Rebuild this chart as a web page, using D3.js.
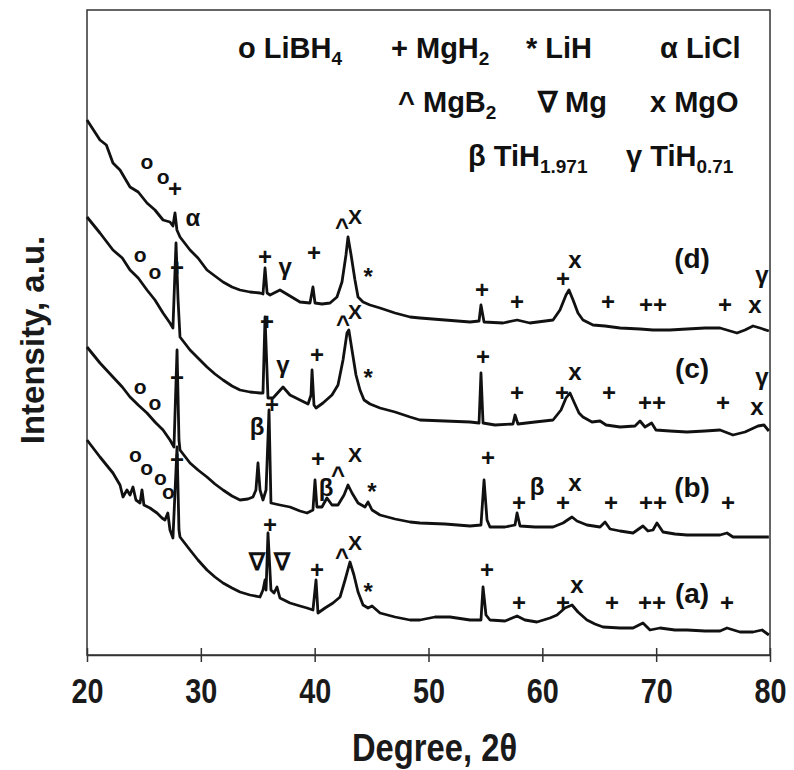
<!DOCTYPE html>
<html>
<head>
<meta charset="utf-8">
<script src="https://cdn.jsdelivr.net/npm/d3@7"></script>
<style>
  body { margin: 0; background: #fff; }
  svg { display: block; }
</style>
</head>
<body>
<div id="chart"></div>
<script>
// XRD patterns, 2theta in degrees vs intensity (a.u., stacked offsets included)
const seriesNames = ['(d)', '(c)', '(b)', '(a)']

const seriesD = [
  [20.0, 535], [21.14, 515], [21.7, 510], [22.28, 492], [22.9, 485], [23.78, 468], [24.5, 463],
  [25.27, 452], [25.97, 445], [26.68, 435], [27.29, 433], [27.55, 429], [27.73, 442], [27.9, 425],
  [28.17, 418], [29.05, 405], [29.75, 397], [30.54, 385], [31.24, 379], [31.95, 373], [32.74, 368],
  [33.44, 365], [34.32, 363], [35.2, 362], [35.46, 361], [35.64, 387], [35.82, 362], [36.08, 360],
  [36.95, 365], [37.83, 359], [38.71, 353], [39.59, 352], [39.85, 368], [40.03, 352], [40.64, 351],
  [41.35, 352], [41.96, 358], [42.4, 373], [42.75, 400], [42.93, 418], [43.2, 400], [43.54, 375],
  [43.81, 358], [44.25, 353], [44.86, 350], [45.74, 347], [47.06, 342], [48.38, 338], [49.25, 337],
  [51.45, 335], [53.65, 333], [54.44, 334], [54.61, 350], [54.88, 333], [56.55, 332], [57.78, 335],
  [58.9, 332], [60.94, 335], [61.55, 345], [62.08, 360], [62.34, 365], [62.7, 355], [63.13, 342],
  [63.57, 335], [64.45, 330], [65.5, 329], [66.83, 327], [68.58, 326], [69.72, 325], [71.2, 325],
  [72.71, 326], [74.29, 327], [75.61, 327], [77.1, 322], [77.8, 325], [78.51, 329], [79.12, 327],
  [79.9, 324]
]

const seriesC = [
  [20.0, 438], [21.14, 422], [22.28, 405], [23.1, 397], [23.78, 385], [24.5, 377], [25.27, 365],
  [25.97, 355], [26.68, 342], [27.29, 332], [27.55, 327], [27.82, 412], [28.0, 355], [28.17, 318],
  [29.05, 305], [29.75, 297], [30.54, 288], [31.24, 281], [31.95, 275], [32.74, 269], [33.44, 265],
  [34.32, 263], [35.2, 262], [35.46, 262], [35.64, 338], [35.9, 257], [36.34, 257], [37.22, 268],
  [37.83, 260], [38.71, 255], [39.42, 251], [39.68, 260], [39.77, 285], [39.94, 250], [40.12, 247],
  [40.73, 252], [41.52, 260], [42.05, 270], [42.49, 295], [42.84, 322], [43.0, 325], [43.28, 305],
  [43.63, 280], [43.98, 265], [44.34, 255], [44.86, 251], [45.74, 247], [47.06, 243], [48.38, 238],
  [49.25, 235], [51.45, 234], [53.65, 233], [54.44, 232], [54.61, 282], [54.79, 232], [55.84, 230],
  [57.42, 231], [57.6, 240], [57.86, 231], [59.36, 233], [60.94, 235], [61.64, 245], [62.08, 257],
  [62.43, 262], [62.78, 253], [63.22, 242], [63.57, 238], [64.36, 233], [65.07, 234], [65.6, 230],
  [66.83, 228], [68.14, 229], [68.58, 234], [69.02, 228], [69.6, 232], [69.98, 225], [71.2, 224],
  [72.71, 223], [74.29, 224], [75.61, 225], [76.75, 220], [77.8, 223], [78.95, 229], [79.47, 230],
  [79.9, 224]
]

const seriesB = [
  [20.0, 308], [21.14, 292], [22.28, 278], [23.1, 268], [23.78, 258], [24.5, 250], [25.27, 242],
  [25.97, 233], [26.68, 225], [27.29, 215], [27.64, 208], [27.91, 305], [28.08, 215], [28.17, 205],
  [29.05, 192], [29.75, 185], [30.54, 178], [31.24, 171], [31.95, 165], [32.74, 159], [33.44, 155],
  [34.14, 156], [34.58, 158], [34.84, 165], [35.02, 192], [35.2, 165], [35.46, 155], [35.73, 165],
  [35.99, 245], [36.16, 152], [36.95, 150], [37.83, 148], [38.71, 144], [39.33, 142], [39.85, 145],
  [40.03, 175], [40.2, 148], [40.64, 148], [41.08, 157], [41.52, 150], [42.05, 150], [42.58, 160],
  [42.93, 170], [43.28, 162], [43.81, 152], [44.42, 148], [44.69, 153], [45.04, 145], [45.74, 140],
  [47.06, 136], [48.38, 133], [49.25, 132], [51.45, 131], [53.65, 129], [54.61, 130], [54.88, 175],
  [55.14, 135], [55.4, 128], [56.72, 128], [57.6, 130], [57.78, 142], [58.04, 129], [59.36, 128],
  [60.94, 128], [61.82, 132], [62.34, 136], [62.61, 138], [63.04, 134], [63.92, 130], [65.07, 128],
  [65.51, 133], [65.95, 126], [66.83, 124], [67.97, 122], [68.84, 129], [69.28, 124], [69.72, 125],
  [70.07, 132], [70.6, 123], [71.65, 121], [72.71, 120], [74.29, 120], [75.61, 120], [76.22, 122],
  [76.75, 118], [78.25, 118], [79.9, 118]
]

const seriesA = [
  [20.0, 215], [21.14, 198], [22.28, 182], [22.9, 170], [23.16, 158], [23.51, 165], [23.78, 160],
  [24.04, 168], [24.3, 155], [24.66, 152], [24.83, 165], [25.0, 150], [25.53, 147], [26.15, 142],
  [26.59, 137], [26.85, 135], [27.1, 142], [27.29, 125], [27.55, 117], [27.91, 208], [28.08, 125],
  [28.17, 118], [29.05, 105], [29.75, 95], [30.54, 85], [31.24, 78], [31.95, 72], [32.74, 67],
  [33.44, 63], [34.32, 60], [35.2, 58], [35.46, 65], [35.64, 75], [35.73, 65], [35.9, 122],
  [36.16, 65], [36.43, 62], [36.69, 68], [36.95, 57], [37.83, 52], [38.71, 49], [39.33, 47],
  [39.85, 45], [40.12, 75], [40.29, 42], [40.91, 47], [41.61, 52], [42.23, 58], [42.67, 75],
  [43.1, 93], [43.45, 80], [43.81, 63], [44.25, 50], [44.69, 47], [45.04, 49], [45.74, 42],
  [47.06, 38], [48.38, 35], [49.25, 35], [50.57, 38], [51.89, 38], [53.65, 35], [54.61, 35],
  [54.79, 68], [55.05, 40], [55.4, 35], [56.72, 34], [57.78, 39], [58.47, 35], [59.53, 33],
  [60.67, 37], [61.29, 40], [61.99, 47], [62.61, 50], [63.13, 43], [63.92, 35], [64.62, 31],
  [65.33, 28], [66.83, 27], [67.97, 27], [68.84, 32], [69.46, 25], [70.34, 27], [71.65, 25],
  [72.71, 25], [74.29, 24], [75.61, 24], [76.22, 27], [77.36, 23], [78.51, 23], [79.3, 25],
  [79.9, 20]
]

// phase markers: [symbol, 2theta, intensity]
const marksD = [
  ['o', 25.27, 493], ['o', 26.68, 478], ['+', 27.73, 466], ['α', 29.3, 437], ['+', 35.64, 398],
  ['γ', 37.4, 388], ['+', 39.94, 402], ['^', 42.4, 428], ['X', 43.54, 438], ['*', 44.69, 378],
  ['+', 54.7, 365], ['+', 57.78, 353], ['+', 61.82, 376], ['x', 62.87, 395], ['+', 65.77, 353],
  ['++', 69.72, 350], ['+', 76.05, 350], ['x', 78.68, 350], ['γ', 79.3, 380]
]
const marksC = [
  ['o', 24.66, 400], ['o', 25.97, 383], ['+', 27.91, 387], ['+', 35.81, 333], ['γ', 37.22, 290],
  ['+', 40.2, 300], ['^', 42.49, 331], ['X', 43.54, 343], ['*', 44.69, 277], ['+', 54.79, 298],
  ['+', 57.78, 262], ['+', 61.73, 262], ['x', 62.87, 283], ['+', 65.86, 262], ['++', 69.63, 252],
  ['+', 75.87, 252], ['x', 78.86, 248], ['γ', 79.3, 278]
]
const marksB = [
  ['o', 24.66, 268], ['o', 25.97, 252], ['+', 27.91, 277], ['β', 34.93, 228], ['+', 36.25, 250],
  ['+', 40.3, 196], ['β', 41.0, 167], ['^', 42.05, 180], ['X', 43.54, 200], ['*', 45.04, 163],
  ['+', 55.23, 197], ['+', 57.95, 152], ['β', 59.53, 168], ['+', 61.82, 152], ['x', 62.87, 172],
  ['+', 66.03, 152], ['++', 69.72, 152], ['+', 76.31, 152]
]
const marksA = [
  ['o', 24.25, 200], ['o', 25.25, 187], ['o', 26.45, 177], ['o', 27.15, 163], ['+', 27.91, 195],
  ['∇', 34.93, 93], ['+', 36.08, 130], ['∇', 37.13, 93], ['+', 40.2, 85], ['^', 42.4, 98],
  ['X', 43.54, 112], ['*', 44.69, 63], ['+', 55.14, 85], ['+', 57.95, 52], ['+', 61.82, 52],
  ['x', 63.04, 70], ['+', 66.12, 52], ['++', 69.63, 52], ['+', 76.22, 52]
]
// where each pattern name sits: [2theta, intensity]
const nameSpots = [[73.15, 397], [73.15, 287], [73.15, 168], [73.15, 62]]

const xTicks = [20, 30, 40, 50, 60, 70, 80]

const legendSymbols = ['o', '+', '*', 'α', '^', '∇', 'x', 'β', 'γ']
const legendPhases = ['LiBH', 'MgH', 'LiH', 'LiCl', 'MgB', 'Mg', 'MgO', 'TiH', 'TiH']
const legendSubs = ['4', '2', '', '', '2', '', '', '1.971', '0.71']

const width = 794, height = 770
const margin = { top: 10, right: 24, bottom: 115, left: 87 }
const legendSpots = [[238, 58], [391, 58], [526, 58], [660, 58],
                     [398, 112], [538, 112], [650, 112],
                     [468, 166], [626, 166]]

const svg = d3.select('#chart').append('svg')
  .attr('width', width)
  .attr('height', height)

const x = d3.scaleLinear().domain([20, 80]).range([margin.left, width - margin.right])
const y = d3.scaleLinear().domain([0, 645]).range([height - margin.bottom, margin.top])

const boldFont = '"Liberation Sans", Arial, sans-serif'

// frame
svg.append('rect')
  .attr('x', x(20)).attr('y', y(645))
  .attr('width', x(80) - x(20)).attr('height', y(0) - y(645))
  .attr('fill', 'none').attr('stroke', '#333').attr('stroke-width', 1.5)

// x axis with ticks crossing the line
const xAxis = d3.axisBottom(x).tickValues(xTicks).tickSize(0).tickPadding(22).tickFormat(d3.format('d'))
const gx = svg.append('g')
  .attr('transform', 'translate(0,' + y(0) + ')')
  .call(xAxis)
gx.select('.domain').attr('stroke', '#333').attr('stroke-width', 1.5)
gx.selectAll('.tick').append('line')
  .attr('y1', -7).attr('y2', 7)
  .attr('stroke', '#333').attr('stroke-width', 1.5)
// condensed look of the original tick labels
gx.selectAll('.tick text')
  .attr('font-family', boldFont)
  .attr('font-weight', 'bold')
  .attr('font-size', 36)
  .attr('fill', '#1a1a1a')
  .attr('transform', 'scale(0.8,1)')

// axis titles
svg.append('g')
  .attr('transform', 'translate(' + ((x(20) + x(80)) / 2 + 6) + ',761) scale(0.84,1)')
  .append('text')
  .attr('text-anchor', 'middle')
  .attr('font-family', boldFont)
  .attr('font-weight', 'bold')
  .attr('font-size', 39)
  .attr('fill', '#1a1a1a')
  .text('Degree, 2θ')

svg.append('text')
  .attr('transform', 'translate(44,340) rotate(-90)')
  .attr('text-anchor', 'middle')
  .attr('font-family', boldFont)
  .attr('font-weight', 'bold')
  .attr('font-size', 33)
  .attr('fill', '#1a1a1a')
  .text('Intensity, a.u.')

// patterns
const line = d3.line().x(d => x(d[0])).y(d => y(d[1]))
const allSeries = [seriesD, seriesC, seriesB, seriesA]
svg.append('g').selectAll('path')
  .data(allSeries)
  .enter()
  .append('path')
  .attr('d', line)
  .attr('fill', 'none')
  .attr('stroke', '#111')
  .attr('stroke-width', 2.8)
  .attr('stroke-linejoin', 'round')

// peak markers
const allMarks = [].concat(marksD, marksC, marksB, marksA)
svg.append('g').selectAll('text')
  .data(allMarks)
  .enter()
  .append('text')
  .attr('x', d => x(d[1]))
  .attr('y', d => y(d[2]))
  .attr('dy', '0.35em')
  .attr('text-anchor', 'middle')
  .attr('font-family', boldFont)
  .attr('font-weight', 'bold')
  .attr('font-size', d => d[0] === 'X' ? 21 : (d[0] === 'o' ? 21 : 24))
  .attr('fill', '#111')
  .text(d => d[0])

// pattern names
svg.append('g').selectAll('text')
  .data(seriesNames)
  .enter()
  .append('text')
  .attr('x', (d, i) => x(nameSpots[i][0]))
  .attr('y', (d, i) => y(nameSpots[i][1]))
  .attr('dy', '0.35em')
  .attr('text-anchor', 'middle')
  .attr('font-family', boldFont)
  .attr('font-weight', 'bold')
  .attr('font-size', 28)
  .attr('fill', '#111')
  .text(d => d)

// legend
const leg = svg.append('g').selectAll('text')
  .data(legendSymbols)
  .enter()
  .append('text')
  .attr('x', (d, i) => legendSpots[i][0])
  .attr('y', (d, i) => legendSpots[i][1])
  .attr('font-family', boldFont)
  .attr('font-weight', 'bold')
  .attr('font-size', 29)
  .attr('fill', '#111')
leg.append('tspan').text((d, i) => d + ' ' + legendPhases[i])
leg.append('tspan')
  .attr('dy', 7)
  .attr('font-size', 19)
  .text((d, i) => legendSubs[i])
</script>
</body>
</html>
